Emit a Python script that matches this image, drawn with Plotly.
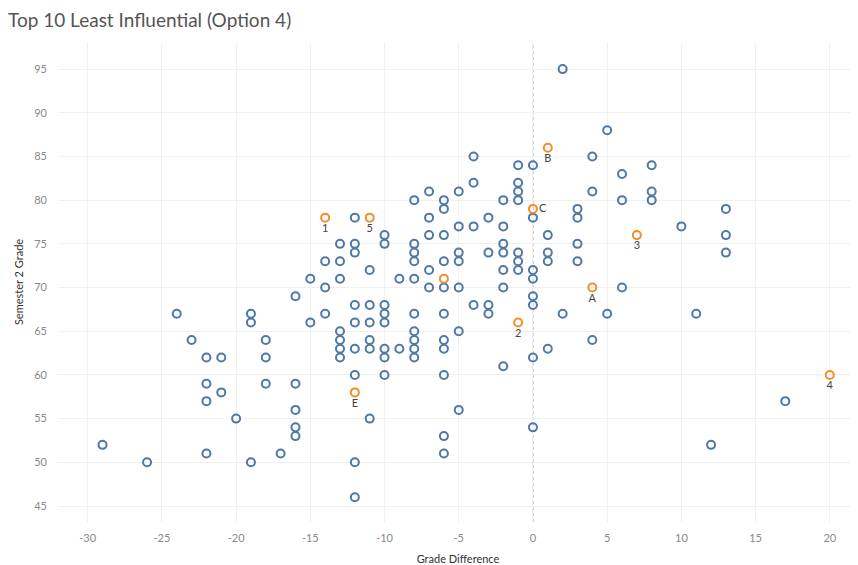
import plotly.graph_objects as go

# ---- data ----
grade_diff = (
    [-29] + [-26] + [-24] + [-23] + [-22] * 4 + [-21] * 2 + [-20] + [-19] * 3 + [-18] * 3 + [-17]
    + [-16] * 5 + [-15] * 2 + [-14] * 3 + [-13] * 7 + [-12] * 9 + [-11] * 6 + [-10] * 8 + [-9] * 2
    + [-8] * 10 + [-7] * 5 + [-6] * 11 + [-5] * 7 + [-4] * 4 + [-3] * 4 + [-2] * 7 + [-1] * 7
    + [0] * 8 + [1] * 4 + [2] * 2 + [3] * 4 + [4] * 3 + [5] * 2 + [6] * 3 + [8] * 3 + [10] + [11]
    + [12] + [13] * 3 + [17]
)
sem2_grade = [
    52,
    50,
    67,
    64,
    62, 59, 57, 51,
    62, 58,
    55,
    67, 66, 50,
    64, 62, 59,
    51,
    69, 59, 56, 54, 53,
    71, 66,
    73, 70, 67,
    75, 73, 71, 65, 64, 63, 62,
    78, 75, 74, 68, 66, 63, 60, 50, 46,
    72, 68, 66, 64, 63, 55,
    76, 75, 68, 67, 66, 63, 62, 60,
    71, 63,
    80, 75, 74, 73, 71, 67, 65, 64, 63, 62,
    81, 78, 76, 72, 70,
    80, 79, 76, 73, 70, 67, 64, 63, 60, 53, 51,
    81, 77, 74, 73, 70, 65, 56,
    85, 82, 77, 68,
    78, 74, 68, 67,
    80, 77, 75, 74, 72, 70, 61,
    84, 82, 81, 80, 74, 73, 72,
    84, 78, 72, 71, 69, 68, 62, 54,
    76, 74, 73, 63,
    95, 67,
    79, 78, 75, 73,
    85, 81, 64,
    88, 67,
    83, 80, 70,
    84, 81, 80,
    77,
    67,
    52,
    79, 76, 74,
    57,
]

hl_diff = [-14, -1, 7, 20, -11, 4, 1, 0, -6, -12]
hl_grade = [78, 66, 76, 60, 78, 70, 86, 79, 71, 58]
hl_label = ["1", "2", "3", "4", "5", "A", "B", "C", "", "E"]
hl_textpos = ["bottom center"] * 7 + ["middle right", "bottom center", "bottom center"]

x_ticks = [-30, -25, -20, -15, -10, -5, 0, 5, 10, 15, 20]
y_ticks = [45, 50, 55, 60, 65, 70, 75, 80, 85, 90, 95]

BLUE = "#4e79a7"
ORANGE = "#f28e2b"
FONT = "Lato, 'Open Sans', sans-serif"

fig = go.Figure()
fig.add_trace(go.Scatter(
    x=grade_diff, y=sem2_grade, mode="markers",
    marker=dict(symbol="circle-open", size=8, color=BLUE, line=dict(width=2, color=BLUE)),
    hoverinfo="x+y", showlegend=False,
))
fig.add_trace(go.Scatter(
    x=hl_diff, y=hl_grade, mode="markers+text",
    text=hl_label, textposition=hl_textpos,
    textfont=dict(family=FONT, size=11, color="#444"),
    marker=dict(symbol="circle-open", size=8, color=ORANGE, line=dict(width=2, color=ORANGE)),
    hoverinfo="x+y+text", showlegend=False,
))

fig.add_vline(x=0, line=dict(color="#a0a0a0", width=1, dash="dot"), layer="below")

# page body has an 8px default margin, so the figure is sized/offset to compensate
fig.update_layout(
    width=850, height=557,
    margin=dict(l=50, r=0, t=34, b=43),
    paper_bgcolor="white", plot_bgcolor="white",
    title=dict(text="Top 10 Least Influential (Option 4)", x=0, xanchor="left",
               y=0.978, yanchor="middle",
               font=dict(family=FONT, size=19, color="#555555")),
    font=dict(family=FONT, size=11, color="#888888"),
)
fig.update_xaxes(
    range=[-32.0, 21.9], tickvals=x_ticks, ticktext=[str(v) for v in x_ticks],
    showgrid=True, gridcolor="#f0f0f0", gridwidth=1, zeroline=False,
    showline=False, ticks="", ticklabelstandoff=8,
    tickfont=dict(family=FONT, size=11, color="#888888"),
    title=dict(text="Grade Difference", font=dict(family=FONT, size=11, color="#333333"), standoff=12),
)
fig.update_yaxes(
    range=[43.17, 98.1], tickvals=y_ticks, ticktext=[str(v) for v in y_ticks],
    showgrid=True, gridcolor="#f0f0f0", gridwidth=1, zeroline=False,
    showline=False, ticks="", ticklabelstandoff=10,
    tickfont=dict(family=FONT, size=11, color="#888888"),
    title=dict(text="Semester 2 Grade", font=dict(family=FONT, size=11, color="#333333"), standoff=8),
)

fig.write_html("out.html")
